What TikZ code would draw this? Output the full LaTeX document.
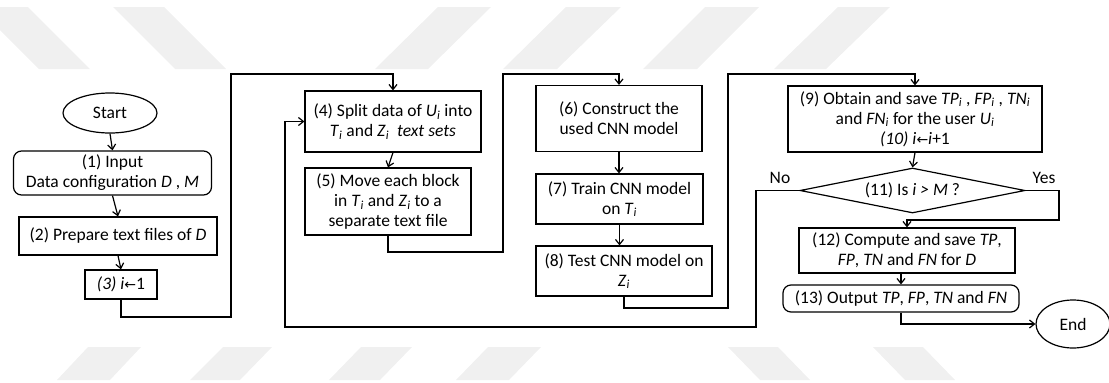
\documentclass[tikz,border=0pt]{standalone}
\usepackage{fontspec}
\setmainfont{Carlito}
\newfontfamily\arrowfont{DejaVu Sans}
\usetikzlibrary{shapes.geometric,arrows.meta}
\newcommand\sbi[1]{\textit{#1}\textsubscript{\textit{i}}}
\newcommand\getsarrow{{\arrowfont\fontsize{14}{14}\selectfont ←}}
\begin{document}
\begin{tikzpicture}[x=1pt,y=-1pt,
  line width=1.2pt,
  every node/.style={font=\fontsize{17.5}{20}\selectfont, align=center, inner sep=0pt},
  box/.style={draw, rectangle, minimum width=#1},
  rbox/.style={draw, rectangle, rounded corners=8pt, minimum width=#1},
  term/.style={draw, ellipse},
  cond/.style={draw, diamond, aspect=5},
  arr/.style={-{Straight Barb[length=5pt,width=8pt]}},
  stripe/.style={fill=black!6, draw=none}]

% page frame
\useasboundingbox (0,0) rectangle (1109,383);

% faint background bands
\foreach \a/\b/\c/\d in {-23/28/39/90, 113/164/175/226, 438/491/375/428,
  566/621/503/557, 705/759/643/697, 838/890/774/826}
  \fill[stripe] (\a,7) -- (\b,7) -- (\d,69) -- (\c,69) -- cycle;
\foreach \a/\b/\c/\d in {88/141/57/110, 223/272/190/240, 361/412/329/380,
  488/541/456/509, 728/778/760/810, 873/923/905/955}
  \fill[stripe] (\a,347) -- (\b,347) -- (\d,380) -- (\c,380) -- cycle;

% process nodes
\node[term, minimum width=94pt, minimum height=40pt] (start) at (110,113) {Start};
\node[rbox=198pt, minimum height=44pt] (n1) at (112.5,173)
  {(1) Input\\Data configuration \textit{D} , \textit{M}};
\node[box=198pt, minimum height=38pt] (n2) at (118,236)
  {(2) Prepare text files of \textit{D}};
\node[box=72pt, minimum height=29pt] (n3) at (121,284.5)
  {\textit{(3) i}\getsarrow1};
\node[box=176pt, minimum height=61pt] (n4) at (393,121.5)
  {(4) Split data of \sbi{U} into\\\sbi{T} and \sbi{Z} \textit{ text sets}};
\node[box=166pt, minimum height=67pt] (n5) at (388,201.5)
  {(5) Move each block\\in \sbi{T} and \sbi{Z} to a\\separate text file};
\node[box=166pt, minimum height=66pt] (n6) at (619,118.5)
  {(6) Construct the\\used CNN model};
\node[box=167pt, minimum height=50pt] (n7) at (619.5,199)
  {(7) Train CNN model\\on \sbi{T}};
\node[box=176pt, minimum height=50pt] (n8) at (624,271)
  {(8) Test CNN model on\\\sbi{Z}};
\node[box=254pt, minimum height=66pt] (n9) at (915,119)
  {(9) Obtain and save \sbi{TP} , \sbi{FP} , \sbi{TN}\\and \sbi{FN} for the user \sbi{U}\\\textit{(10) i}\getsarrow\textit{i}+1};
\node[cond, minimum width=225pt, minimum height=45pt] (d11) at (912.5,190.5)
  {(11) Is \textit{i > M} ?};
\node[box=216pt, minimum height=45pt] (n12) at (907,250.5)
  {(12) Compute and save \textit{TP},\\\textit{FP}, \textit{TN} and \textit{FN} for \textit{D}};
\node[rbox=236pt, minimum height=27pt] (n13) at (901,298.5)
  {(13) Output \textit{TP}, \textit{FP}, \textit{TN} and \textit{FN}};
\node[term, minimum width=74pt, minimum height=48pt] (end) at (1073,324) {End};

% branch labels
\node (no) at (780,178) {No};
\node (yes) at (1044,178) {Yes};

% bend points of the routed connectors
\coordinate (j1) at (231,317);  \coordinate (t1) at (231,74);
\coordinate (j2) at (503,252);  \coordinate (t2) at (503,74);
\coordinate (j3) at (728,308);  \coordinate (t3) at (728,74);
\coordinate (j4) at (756,327);  \coordinate (j5) at (285,327);
\coordinate (j6) at (1059,220);

% straight connectors
\draw[arr] (start.south) -- (n1.north);
\draw[arr] (n1.south) -- (n2.north);
\draw[arr] (n2.south) -- (n3.north);
\draw[arr] (n4.south) -- (n5.north);
\draw[arr] (n6.south) -- (n6.south |- n7.north);
\draw[arr] (n7.south) -- (n7.south |- n8.north);
\draw[arr] (n9.south) -- (d11.north);
\draw[arr] (n12.south -| n13.north) -- (n13.north);

% routed connectors between columns
\draw[arr] (n3.south) |- (j1) -- (t1) -| (n4.north);
\draw[arr] (n5.south) |- (j2) -- (t2) -| (n6.north);
\draw[arr] (n8.south) |- (j3) -- (t3) -| (n9.north);

% decision branches
\draw[arr] (d11.west) -| (j4) -- (j5) |- (n4.west);
\draw[arr] (d11.east) -| (j6) -| (n12.north);
\draw[arr] (n13.south) |- (end.west);
\end{tikzpicture}
\end{document}
